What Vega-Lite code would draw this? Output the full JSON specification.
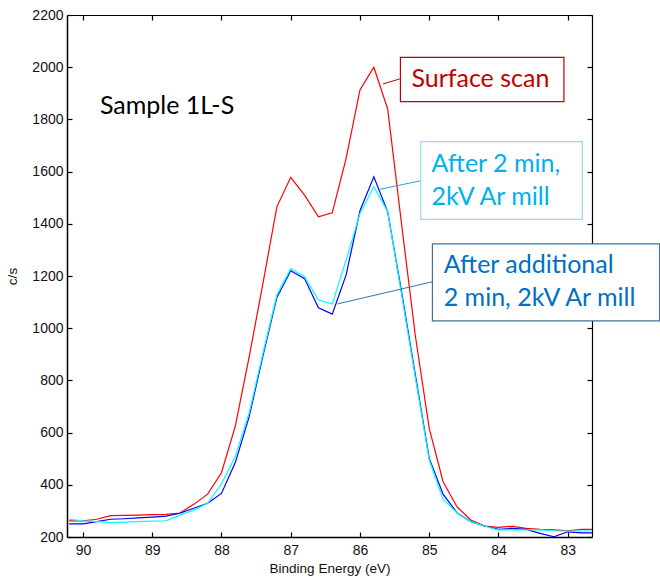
{
  "$schema": "https://vega.github.io/schema/vega-lite/v6.json",
  "width": 525,
  "height": 522,
  "autosize": {"type": "none"},
  "padding": {"left": 67, "top": 15, "right": 68, "bottom": 42},
  "background": "white",
  "config": {
    "view": {"stroke": null},
    "axis": {
      "grid": false,
      "domainColor": "#000000",
      "domainWidth": 1.5,
      "tickColor": "#000000",
      "tickWidth": 1.2,
      "labelFont": "Liberation Sans",
      "labelFontSize": 14,
      "labelColor": "#111111",
      "titleFont": "Liberation Sans",
      "titleFontSize": 13.5,
      "titleFontWeight": "normal",
      "titleColor": "#111111"
    }
  },
  "datasets": {
    "xps": [
      {"E": 90.2, "cps": 262, "series": "Surface scan"},
      {"E": 90.0, "cps": 262, "series": "Surface scan"},
      {"E": 89.8, "cps": 268, "series": "Surface scan"},
      {"E": 89.6, "cps": 282, "series": "Surface scan"},
      {"E": 89.4, "cps": 283, "series": "Surface scan"},
      {"E": 89.2, "cps": 284, "series": "Surface scan"},
      {"E": 89.0, "cps": 286, "series": "Surface scan"},
      {"E": 88.8, "cps": 287, "series": "Surface scan"},
      {"E": 88.6, "cps": 292, "series": "Surface scan"},
      {"E": 88.4, "cps": 325, "series": "Surface scan"},
      {"E": 88.2, "cps": 364, "series": "Surface scan"},
      {"E": 88.0, "cps": 446, "series": "Surface scan"},
      {"E": 87.8, "cps": 625, "series": "Surface scan"},
      {"E": 87.6, "cps": 890, "series": "Surface scan"},
      {"E": 87.4, "cps": 1173, "series": "Surface scan"},
      {"E": 87.2, "cps": 1465, "series": "Surface scan"},
      {"E": 87.0, "cps": 1578, "series": "Surface scan"},
      {"E": 86.8, "cps": 1510, "series": "Surface scan"},
      {"E": 86.6, "cps": 1427, "series": "Surface scan"},
      {"E": 86.4, "cps": 1442, "series": "Surface scan"},
      {"E": 86.2, "cps": 1651, "series": "Surface scan"},
      {"E": 86.0, "cps": 1913, "series": "Surface scan"},
      {"E": 85.8, "cps": 2000, "series": "Surface scan"},
      {"E": 85.6, "cps": 1840, "series": "Surface scan"},
      {"E": 85.4, "cps": 1400, "series": "Surface scan"},
      {"E": 85.2, "cps": 970, "series": "Surface scan"},
      {"E": 85.0, "cps": 616, "series": "Surface scan"},
      {"E": 84.8, "cps": 412, "series": "Surface scan"},
      {"E": 84.6, "cps": 316, "series": "Surface scan"},
      {"E": 84.4, "cps": 265, "series": "Surface scan"},
      {"E": 84.2, "cps": 242, "series": "Surface scan"},
      {"E": 84.0, "cps": 237, "series": "Surface scan"},
      {"E": 83.8, "cps": 241, "series": "Surface scan"},
      {"E": 83.6, "cps": 233, "series": "Surface scan"},
      {"E": 83.4, "cps": 229, "series": "Surface scan"},
      {"E": 83.2, "cps": 227, "series": "Surface scan"},
      {"E": 83.0, "cps": 224, "series": "Surface scan"},
      {"E": 82.8, "cps": 229, "series": "Surface scan"},
      {"E": 82.6, "cps": 229, "series": "Surface scan"},

      {"E": 90.2, "cps": 250, "series": "After additional 2 min, 2kV Ar mill"},
      {"E": 90.0, "cps": 250, "series": "After additional 2 min, 2kV Ar mill"},
      {"E": 89.8, "cps": 259, "series": "After additional 2 min, 2kV Ar mill"},
      {"E": 89.6, "cps": 268, "series": "After additional 2 min, 2kV Ar mill"},
      {"E": 89.4, "cps": 270, "series": "After additional 2 min, 2kV Ar mill"},
      {"E": 89.2, "cps": 273, "series": "After additional 2 min, 2kV Ar mill"},
      {"E": 89.0, "cps": 276, "series": "After additional 2 min, 2kV Ar mill"},
      {"E": 88.8, "cps": 280, "series": "After additional 2 min, 2kV Ar mill"},
      {"E": 88.6, "cps": 291, "series": "After additional 2 min, 2kV Ar mill"},
      {"E": 88.4, "cps": 310, "series": "After additional 2 min, 2kV Ar mill"},
      {"E": 88.2, "cps": 329, "series": "After additional 2 min, 2kV Ar mill"},
      {"E": 88.0, "cps": 367, "series": "After additional 2 min, 2kV Ar mill"},
      {"E": 87.8, "cps": 485, "series": "After additional 2 min, 2kV Ar mill"},
      {"E": 87.6, "cps": 661, "series": "After additional 2 min, 2kV Ar mill"},
      {"E": 87.4, "cps": 895, "series": "After additional 2 min, 2kV Ar mill"},
      {"E": 87.2, "cps": 1118, "series": "After additional 2 min, 2kV Ar mill"},
      {"E": 87.0, "cps": 1220, "series": "After additional 2 min, 2kV Ar mill"},
      {"E": 86.8, "cps": 1190, "series": "After additional 2 min, 2kV Ar mill"},
      {"E": 86.6, "cps": 1078, "series": "After additional 2 min, 2kV Ar mill"},
      {"E": 86.4, "cps": 1054, "series": "After additional 2 min, 2kV Ar mill"},
      {"E": 86.2, "cps": 1204, "series": "After additional 2 min, 2kV Ar mill"},
      {"E": 86.0, "cps": 1450, "series": "After additional 2 min, 2kV Ar mill"},
      {"E": 85.8, "cps": 1580, "series": "After additional 2 min, 2kV Ar mill"},
      {"E": 85.6, "cps": 1446, "series": "After additional 2 min, 2kV Ar mill"},
      {"E": 85.4, "cps": 1140, "series": "After additional 2 min, 2kV Ar mill"},
      {"E": 85.2, "cps": 820, "series": "After additional 2 min, 2kV Ar mill"},
      {"E": 85.0, "cps": 501, "series": "After additional 2 min, 2kV Ar mill"},
      {"E": 84.8, "cps": 364, "series": "After additional 2 min, 2kV Ar mill"},
      {"E": 84.6, "cps": 293, "series": "After additional 2 min, 2kV Ar mill"},
      {"E": 84.4, "cps": 259, "series": "After additional 2 min, 2kV Ar mill"},
      {"E": 84.2, "cps": 242, "series": "After additional 2 min, 2kV Ar mill"},
      {"E": 84.0, "cps": 229, "series": "After additional 2 min, 2kV Ar mill"},
      {"E": 83.8, "cps": 233, "series": "After additional 2 min, 2kV Ar mill"},
      {"E": 83.6, "cps": 229, "series": "After additional 2 min, 2kV Ar mill"},
      {"E": 83.4, "cps": 214, "series": "After additional 2 min, 2kV Ar mill"},
      {"E": 83.2, "cps": 201, "series": "After additional 2 min, 2kV Ar mill"},
      {"E": 83.0, "cps": 220, "series": "After additional 2 min, 2kV Ar mill"},
      {"E": 82.8, "cps": 216, "series": "After additional 2 min, 2kV Ar mill"},
      {"E": 82.6, "cps": 216, "series": "After additional 2 min, 2kV Ar mill"},

      {"E": 90.2, "cps": 268, "series": "After 2 min, 2kV Ar mill"},
      {"E": 90.0, "cps": 262, "series": "After 2 min, 2kV Ar mill"},
      {"E": 89.8, "cps": 259, "series": "After 2 min, 2kV Ar mill"},
      {"E": 89.6, "cps": 255, "series": "After 2 min, 2kV Ar mill"},
      {"E": 89.4, "cps": 257, "series": "After 2 min, 2kV Ar mill"},
      {"E": 89.2, "cps": 259, "series": "After 2 min, 2kV Ar mill"},
      {"E": 89.0, "cps": 261, "series": "After 2 min, 2kV Ar mill"},
      {"E": 88.8, "cps": 262, "series": "After 2 min, 2kV Ar mill"},
      {"E": 88.6, "cps": 284, "series": "After 2 min, 2kV Ar mill"},
      {"E": 88.4, "cps": 303, "series": "After 2 min, 2kV Ar mill"},
      {"E": 88.2, "cps": 329, "series": "After 2 min, 2kV Ar mill"},
      {"E": 88.0, "cps": 403, "series": "After 2 min, 2kV Ar mill"},
      {"E": 87.8, "cps": 508, "series": "After 2 min, 2kV Ar mill"},
      {"E": 87.6, "cps": 675, "series": "After 2 min, 2kV Ar mill"},
      {"E": 87.4, "cps": 905, "series": "After 2 min, 2kV Ar mill"},
      {"E": 87.2, "cps": 1127, "series": "After 2 min, 2kV Ar mill"},
      {"E": 87.0, "cps": 1228, "series": "After 2 min, 2kV Ar mill"},
      {"E": 86.8, "cps": 1197, "series": "After 2 min, 2kV Ar mill"},
      {"E": 86.6, "cps": 1108, "series": "After 2 min, 2kV Ar mill"},
      {"E": 86.4, "cps": 1093, "series": "After 2 min, 2kV Ar mill"},
      {"E": 86.2, "cps": 1261, "series": "After 2 min, 2kV Ar mill"},
      {"E": 86.0, "cps": 1440, "series": "After 2 min, 2kV Ar mill"},
      {"E": 85.8, "cps": 1542, "series": "After 2 min, 2kV Ar mill"},
      {"E": 85.6, "cps": 1446, "series": "After 2 min, 2kV Ar mill"},
      {"E": 85.4, "cps": 1130, "series": "After 2 min, 2kV Ar mill"},
      {"E": 85.2, "cps": 810, "series": "After 2 min, 2kV Ar mill"},
      {"E": 85.0, "cps": 495, "series": "After 2 min, 2kV Ar mill"},
      {"E": 84.8, "cps": 344, "series": "After 2 min, 2kV Ar mill"},
      {"E": 84.6, "cps": 293, "series": "After 2 min, 2kV Ar mill"},
      {"E": 84.4, "cps": 259, "series": "After 2 min, 2kV Ar mill"},
      {"E": 84.2, "cps": 242, "series": "After 2 min, 2kV Ar mill"},
      {"E": 84.0, "cps": 227, "series": "After 2 min, 2kV Ar mill"},
      {"E": 83.8, "cps": 227, "series": "After 2 min, 2kV Ar mill"},
      {"E": 83.6, "cps": 227, "series": "After 2 min, 2kV Ar mill"},
      {"E": 83.4, "cps": 227, "series": "After 2 min, 2kV Ar mill"},
      {"E": 83.2, "cps": 224, "series": "After 2 min, 2kV Ar mill"},
      {"E": 83.0, "cps": 223, "series": "After 2 min, 2kV Ar mill"},
      {"E": 82.8, "cps": 223, "series": "After 2 min, 2kV Ar mill"},
      {"E": 82.6, "cps": 223, "series": "After 2 min, 2kV Ar mill"}
    ]
  },
  "resolve": {"axis": {"x": "independent", "y": "independent"}},
  "layer": [
    {
      "data": {"name": "xps"},
      "mark": {"type": "line", "strokeWidth": 1.2, "clip": true},
      "encoding": {
        "x": {
          "field": "E", "type": "quantitative",
          "scale": {"domain": [82.65, 90.23], "reverse": true, "nice": false, "zero": false},
          "axis": {"orient": "bottom", "values": [83, 84, 85, 86, 87, 88, 89, 90], "format": "d", "tickSize": -5, "labelPadding": 11, "title": "Binding Energy (eV)", "titlePadding": 4}
        },
        "y": {
          "field": "cps", "type": "quantitative",
          "scale": {"domain": [200, 2200], "nice": false, "zero": false},
          "axis": {"orient": "left", "values": [200, 400, 600, 800, 1000, 1200, 1400, 1600, 1800, 2000, 2200], "format": "d", "tickSize": -5, "labelPadding": 9, "title": "c/s", "titlePadding": 12}
        },
        "color": {
          "field": "series", "type": "nominal",
          "scale": {"domain": ["Surface scan", "After additional 2 min, 2kV Ar mill", "After 2 min, 2kV Ar mill"], "range": ["#FF0000", "#0000FF", "#00FFFF"]},
          "legend": null
        }
      }
    },
    {
      "data": {"name": "xps"},
      "mark": {"type": "line", "strokeOpacity": 0},
      "encoding": {
        "x": {"field": "E", "type": "quantitative", "axis": {"orient": "top", "values": [83, 84, 85, 86, 87, 88, 89, 90], "labels": false, "tickSize": -5, "title": null, "domainWidth": 1.2}},
        "y": {"field": "cps", "type": "quantitative", "axis": {"orient": "right", "values": [200, 400, 600, 800, 1000, 1200, 1400, 1600, 1800, 2000, 2200], "labels": false, "tickSize": -5, "title": null, "domainWidth": 1.2}},
        "detail": {"field": "series"}
      }
    },
    {
      "data": {"values": [{"t": "Sample 1L-S"}]},
      "mark": {"type": "text", "font": "Lato", "fontSize": 25, "align": "left", "baseline": "alphabetic", "color": "#000000"},
      "encoding": {
        "x": {"datum": 89.755, "type": "quantitative", "axis": null},
        "y": {"datum": 1820, "type": "quantitative", "axis": null},
        "text": {"field": "t"}
      }
    },
    {
      "data": {"values": [{}]},
      "mark": {"type": "rule", "color": "#C00000", "strokeWidth": 1},
      "encoding": {
        "x": {"datum": 85.667, "type": "quantitative", "axis": null},
        "x2": {"datum": 85.426},
        "y": {"datum": 1936, "type": "quantitative", "axis": null},
        "y2": {"datum": 1955}
      }
    },
    {
      "data": {"values": [{}]},
      "mark": {"type": "rect", "fill": "white", "stroke": "#C00000", "strokeWidth": 1.2},
      "encoding": {
        "x": {"datum": 85.416, "type": "quantitative", "axis": null},
        "x2": {"datum": 83.055},
        "y": {"datum": 2038, "type": "quantitative", "axis": null},
        "y2": {"datum": 1868}
      }
    },
    {
      "data": {"values": [{"t": "Surface scan"}]},
      "mark": {"type": "text", "font": "Lato", "fontSize": 25, "align": "left", "baseline": "alphabetic", "color": "#C00000"},
      "encoding": {
        "x": {"datum": 85.257, "type": "quantitative", "axis": null},
        "y": {"datum": 1923, "type": "quantitative", "axis": null},
        "text": {"field": "t"}
      }
    },
    {
      "data": {"values": [{}]},
      "mark": {"type": "rule", "color": "#1FA8DE", "strokeWidth": 1},
      "encoding": {
        "x": {"datum": 85.714, "type": "quantitative", "axis": null},
        "x2": {"datum": 85.123},
        "y": {"datum": 1532, "type": "quantitative", "axis": null},
        "y2": {"datum": 1565}
      }
    },
    {
      "data": {"values": [{}]},
      "mark": {"type": "rect", "fill": "white", "stroke": "#9DD8EE", "strokeWidth": 1.2},
      "encoding": {
        "x": {"datum": 85.123, "type": "quantitative", "axis": null},
        "x2": {"datum": 82.789},
        "y": {"datum": 1715, "type": "quantitative", "axis": null},
        "y2": {"datum": 1417}
      }
    },
    {
      "data": {"values": [{"t": "After 2 min,\n2kV Ar mill"}]},
      "mark": {"type": "text", "font": "Lato", "fontSize": 25, "align": "left", "baseline": "alphabetic", "lineBreak": "\n", "lineHeight": 33, "color": "#00B0F0"},
      "encoding": {
        "x": {"datum": 84.968, "type": "quantitative", "axis": null},
        "y": {"datum": 1600, "type": "quantitative", "axis": null},
        "text": {"field": "t"}
      }
    },
    {
      "data": {"values": [{}]},
      "mark": {"type": "rule", "color": "#2E75B6", "strokeWidth": 1},
      "encoding": {
        "x": {"datum": 86.325, "type": "quantitative", "axis": null},
        "x2": {"datum": 84.954},
        "y": {"datum": 1093, "type": "quantitative", "axis": null},
        "y2": {"datum": 1178}
      }
    },
    {
      "data": {"values": [{}]},
      "mark": {"type": "rect", "fill": "white", "stroke": "#41719C", "strokeWidth": 1.2},
      "encoding": {
        "x": {"datum": 84.954, "type": "quantitative", "axis": null},
        "x2": {"datum": 81.674},
        "y": {"datum": 1323, "type": "quantitative", "axis": null},
        "y2": {"datum": 1028}
      }
    },
    {
      "data": {"values": [{"t": "After additional\n2 min, 2kV Ar mill"}]},
      "mark": {"type": "text", "font": "Lato", "fontSize": 25, "align": "left", "baseline": "alphabetic", "lineBreak": "\n", "lineHeight": 33, "color": "#0070C0"},
      "encoding": {
        "x": {"datum": 84.791, "type": "quantitative", "axis": null},
        "y": {"datum": 1210, "type": "quantitative", "axis": null},
        "text": {"field": "t"}
      }
    }
  ]
}
